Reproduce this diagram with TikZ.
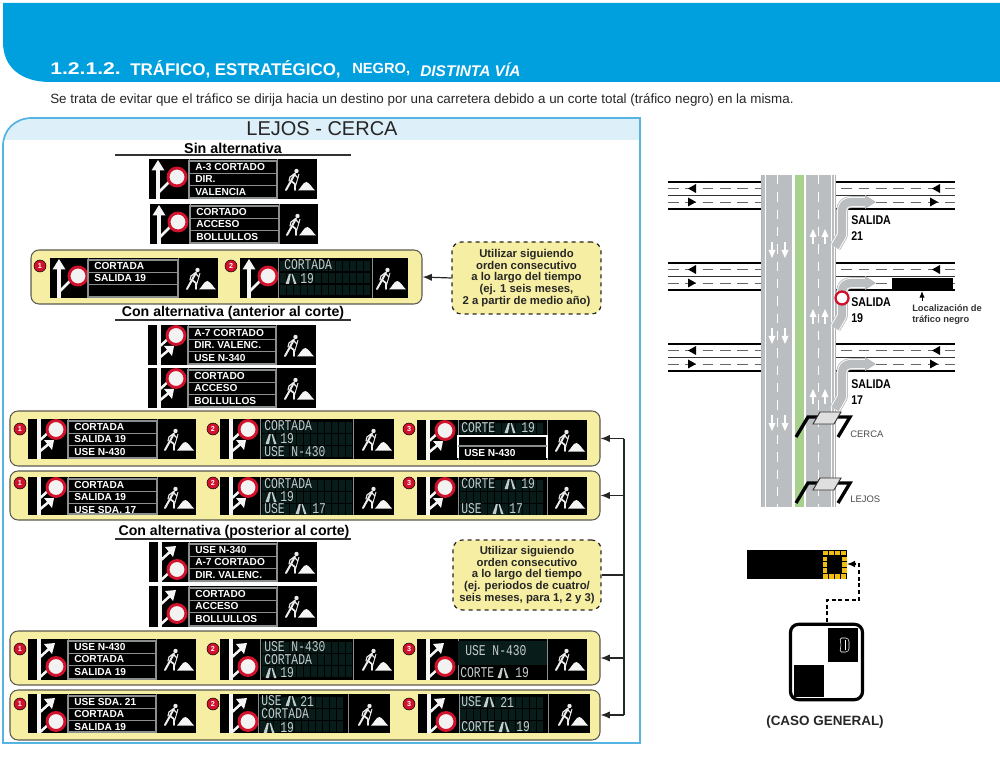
\documentclass[tikz,border=0pt]{standalone}
\usepackage{fontspec}
\setmainfont{Liberation Sans}
\newfontfamily\ledfont{Liberation Mono}
\usetikzlibrary{arrows.meta,calc}
\definecolor{hdrblue}{HTML}{009FDE}
\definecolor{panelblue}{HTML}{55B4E2}
\definecolor{bandblue}{HTML}{DDF0F9}
\definecolor{boxyellow}{HTML}{F6EEA2}
\definecolor{boxedge}{HTML}{5A5A50}
\definecolor{signred}{HTML}{D0122C}
\definecolor{ledcell}{HTML}{081C1A}
\definecolor{ledtext}{HTML}{C4CCCC}
\definecolor{rowgray}{HTML}{8A8E8E}
\definecolor{roadgray}{HTML}{BBBEC0}
\definecolor{median}{HTML}{A9D18E}
\definecolor{ledgold}{HTML}{F2BD12}
\newcount\tn
\newcommand\sz[1]{\fontsize{#1}{#1}\selectfont}
% generic text node, auto named
\newcommand\lbl[4][]{\global\advance\tn by 1 \node[txt,#1] (t\the\tn) at (#2,#3) {#4};}
\newcommand\rowtx[3]{\global\advance\tn by 1 \node[rowtext] (t\the\tn) at (#1,#2) {#3};}
\newcommand\ltx[3]{\global\advance\tn by 1 \node[ledtxt] (t\the\tn) at (#1,#2) {\scalebox{1}[1.32]{#3}};}
\newcommand\ric[2]{\begin{scope}[shift={(#1,#2)}]
  \fill[ledtext] (-0.5,5)--(3,-5)--(4.8,-5)--(3,5)--cycle;
  \fill[ledtext] (8,5)--(5.6,-5)--(6.8,-5)--(10.5,5)--cycle;
  \end{scope}}
\newcommand\numc[3]{\global\advance\tn by 1 \node[numdot] (t\the\tn) at (#1,#2) {#3};}
\newcommand\rsign[2]{\draw[signred,line width=2.2pt,fill=gray!10] (#1,#2) circle (9);}
\newcommand\picto[1]{%
  \ifx a#1%
    \draw[signwhite,line width=3.1pt] (9,40)--(9,9);
    \fill[signwhite] (2.5,11.5)--(9,1)--(15.5,11.5)--cycle;
    \draw[signwhite,line width=1.9pt] (9,34)--(21,22);
    \rsign{28}{18}%
  \fi
  \ifx b#1%
    \draw[signwhite,line width=3.2pt] (11,0)--(11,\sh);
    \draw[signwhite,line width=1.9pt] (11,22)--(21,13);
    \draw[signwhite,line width=1.9pt] (11,33)--(22,24);
    \fill[signwhite] (16,21)--(26,21)--(24,31)--cycle;
    \rsign{28}{10.5}%
  \fi
  \ifx c#1%
    \draw[signwhite,line width=3.2pt] (11,0)--(11,\sh);
    \draw[signwhite,line width=1.9pt] (11,19)--(22,9);
    \fill[signwhite] (16,5)--(27,4)--(24,15)--cycle;
    \draw[signwhite,line width=1.9pt] (11,39)--(21,30);
    \rsign{28}{27.5}%
  \fi}
\newcommand\worker{%
  \fill[workgray] (147.5,12) circle (2.2);
  \draw[workgray,line width=1.5pt,line cap=round,line join=round] (146,14.5)--(142,22)--(137,31);
  \draw[workgray,line width=1.3pt,line cap=round,line join=round] (142,22)--(146,25)--(146,31);
  \draw[workgray,line width=.9pt,line cap=round] (145,15)--(141,18)--(140,22);
  \draw[workgray,line width=.9pt,line cap=round] (145,15)--(149,19);
  \draw[workgray,line width=.7pt] (150,15)--(146,29);
  \fill[signwhite] (149,31.5) .. controls (152,29) and (154,23) .. (157.5,23) .. controls (161,24) and (163,29) .. (166,31.5) -- cycle;}
% x y w p1 p2 type body
\newcommand\sign[7]{\begin{scope}[shift={(#1,#2)}]
  \fill[black] (0,0) rectangle (#3,\sh);
  \draw[rowgray,line width=.5pt] (#4,0)--(#4,\sh) (#5,0)--(#5,\sh);
  \picto{#6}
  \begin{scope}[shift={(#3-168,0)}]\worker\end{scope}
  #7
  \end{scope}}
\newcommand\rows[5]{% p1 p2 t1 t2 t3
  \draw[rowgray,line width=.9pt] (#1,2) rectangle (#2,\sh-1);
  \draw[rowgray,line width=.7pt] (#1,14)--(#2,14) (#1,26)--(#2,26);
  \rowtx{#1+6}{8}{#3}\rowtx{#1+6}{20.5}{#4}\rowtx{#1+6}{33}{#5}}
\newcommand\grid[2]{\pgfmathtruncatemacro\gn{(#2-#1)/7}\foreach \gi in {0,...,\gn}{\foreach \gy in {3,15,27}{\fill[ledcell] (#1+\gi*7,\gy) rectangle ++(6,10.5);}}}
\newcommand\fixedsign[8]{\sign{#1}{#2}{#3}{#4}{#5}{#6}{\rows{#4}{#5}{#7}{#8}{\tthree}}}
\newcommand\sal[1]{\scalebox{.84}[1]{#1}}
\tikzset{
  x=.75pt,y=-.75pt,
  signwhite/.style={color=white!92!gray},
  workgray/.style={color=white!85!gray},
  txt/.style={inner sep=0pt,anchor=center,text=black},
  rowtext/.style={inner sep=0pt,anchor=west,text=white,font=\bfseries\sz{7.6}},
  ledtxt/.style={inner sep=0pt,anchor=west,text=ledtext,font=\ledfont\sz{8.5}},
  numdot/.style={circle,draw=black,line width=.4pt,fill=signred,text=white,inner sep=0pt,minimum size=9pt,font=\bfseries\sz{5.4}},
  ybox/.style={rectangle,rounded corners=6pt,draw=boxedge,line width=.8pt,fill=boxyellow,inner sep=0pt},
  notebox/.style={rectangle,rounded corners=7pt,draw=black!85,dashed,line width=.9pt,fill=boxyellow,inner sep=0pt,align=center,font=\bfseries\fontsize{8.5}{8.9}\selectfont,text=black!85},
  bus/.style={draw=black!85,line width=.9pt},
  busarrow/.style={draw=black!85,line width=.9pt,-{Latex[length=7pt,width=5.5pt]}},
  thickrd/.style={draw=black,line width=1.3pt},
  thinrd/.style={draw=black!80,line width=.7pt},
  dashrd/.style={draw=black!60,line width=.7pt,dash pattern=on 8pt off 5pt},
  whitedash/.style={draw=white,line width=.6pt,dash pattern=on 7pt off 6pt},
  gantry/.style={draw=black,line width=2.5pt,line join=miter},
  gsign/.style={draw=black!80,fill=gray!25,line width=.7pt},
}
\newcommand\rdarrow[3]{\fill[black] (#1,#2) -- ++(#3*8,-4.5) -- ++(0,9) -- cycle;}
\newcommand\uparr[2]{\draw[white,line width=1.2pt] (#1,#2+15)--(#1,#2+4); \fill[white] (#1-3.5,#2+8)--(#1,#2)--(#1+3.5,#2+8)--cycle;}
\newcommand\dnarr[2]{\draw[white,line width=1.2pt] (#1,#2)--(#1,#2+10); \fill[white] (#1-3.5,#2+8)--(#1,#2+16)--(#1+3.5,#2+8)--cycle;}
\newcommand\hroad[1]{% top y
  \draw[thickrd] (668,#1)--(955,#1);
  \draw[thinrd] (668,#1+13.5)--(955,#1+13.5);
  \draw[thickrd] (668,#1+27)--(955,#1+27);
  \draw[dashrd] (668,#1+6.5)--(955,#1+6.5);
  \draw[dashrd] (668,#1+20)--(955,#1+20);
  \rdarrow{688}{#1+6.5}{1}\rdarrow{932}{#1+6.5}{1}
  \rdarrow{696}{#1+20}{-1}\rdarrow{938}{#1+20}{-1}}
\newcommand\ramp[1]{% arrow y
  \foreach \c/\w in {gray!55/8.8,white/7.6,roadgray/6.2}{
   \draw[color=\c,line width=\w pt,line join=round] (835,#1+45)--(842,#1+33)--(842,#1+10) .. controls (842,#1+3) and (845,#1) .. (852,#1)--(866,#1);}
  \fill[roadgray] (865,#1-7)--(876,#1)--(865,#1+7)--cycle;}
\newcommand\gant[1]{\begin{scope}[shift={(0,#1)}]
  \draw[gantry] (796,437)--(808,417)--(820,417);
  \draw[gantry] (838,437)--(850,417)--(836,417);
  \draw[gsign] (820,412)--(841,412)--(834,424)--(813,424)--cycle;
  \end{scope}}
\begin{document}
\begin{tikzpicture}
\useasboundingbox (0,0) rectangle (1000,759);
\def\sh{40}
% header
\fill[hdrblue] (3,3) -- (1000,3) -- (1000,82) -- (50,82) .. controls (22,82) and (3,68) .. (3,42) -- cycle;
\lbl[anchor=west,text=white,font=\bfseries\sz{12.7}]{50}{69}{\scalebox{1.25}[1]{1.2.1.2.}}
\lbl[anchor=west,text=white,font=\bfseries\sz{12.7}]{130}{69}{TRÁFICO, ESTRATÉGICO,}
\lbl[anchor=west,text=white,font=\bfseries\sz{11}]{352}{70}{NEGRO,}
\lbl[anchor=west,text=white,font=\bfseries\itshape\sz{11.6}]{420}{70}{DISTINTA VÍA}
\lbl[anchor=west,text=black!85,font=\sz{10.05}]{50}{100}{Se trata de evitar que el tráfico se dirija hacia un destino por una carretera debido a un corte total (tráfico negro) en la misma.}
% main panel
\fill[bandblue] (3,140) -- (3,146) .. controls (3,130) and (15,118) .. (32,118) -- (640,118) -- (640,140) -- cycle;
\draw[panelblue,line width=1.3pt] (3,743) -- (3,146) .. controls (3,130) and (15,118) .. (32,118) -- (640,118) -- (640,743) -- cycle;
\lbl[font=\sz{15},text=black!85]{322}{129}{LEJOS - CERCA}
\lbl[font=\bfseries\sz{10.7}]{233}{148}{Sin alternativa}
\draw[black!80,line width=.8pt] (115,155)--(351,155);
\lbl[font=\bfseries\sz{10.6}]{233}{313}{Con alternativa (anterior al corte)}
\draw[black!80,line width=.8pt] (115,320)--(351,320);
\lbl[font=\bfseries\sz{10.6}]{234}{532}{Con alternativa (posterior al corte)}
\draw[black!80,line width=.8pt] (115,539)--(351,539);
% yellow rows
\node[ybox,minimum width=293.25pt,minimum height=40.5pt] (b1) at (226.5,277) {};
\node[ybox,minimum width=442.5pt,minimum height=41.25pt] (b2) at (305,438.5) {};
\node[ybox,minimum width=442.5pt,minimum height=36.75pt] (b3) at (305,495.5) {};
\node[ybox,minimum width=442.5pt,minimum height=40.5pt] (b4) at (305,658) {};
\node[ybox,minimum width=442.5pt,minimum height=37.5pt] (b5) at (305,715) {};
% notes
\node[notebox,minimum width=111.75pt,minimum height=54pt] (n1) at (526.5,278) {Utilizar siguiendo\\orden consecutivo\\a lo largo del tiempo\\(ej. 1 seis meses,\\2 a partir de medio año)};
\node[notebox,minimum width=111pt,minimum height=52.5pt] (n2) at (527,575) {Utilizar siguiendo\\orden consecutivo\\a lo largo del tiempo\\(ej. periodos de cuatro/\\seis meses, para 1, 2 y 3)};
% connectors
\coordinate (busline) at (624,575);
\draw[busarrow] (n1.west) -- (b1.east);
\draw[bus] (n2.east) -- (busline);
\draw[bus] (busline |- b2.east) -- (busline |- b5.east);
\draw[busarrow] (busline |- b2.east) -- (b2.east);
\draw[busarrow] (busline |- b3.east) -- (b3.east);
\draw[busarrow] (busline |- b4.east) -- (b4.east);
\draw[busarrow] (busline |- b5.east) -- (b5.east);
% sin alternativa
\def\tthree{VALENCIA}\fixedsign{149}{159}{168}{40}{128}{a}{A-3 CORTADO}{DIR.}
\def\tthree{BOLLULLOS}\fixedsign{150}{204}{168}{40}{129}{a}{CORTADO}{ACCESO}
\numc{40}{266}{1}\def\tthree{}\fixedsign{50}{258}{168}{38}{128}{a}{CORTADA}{SALIDA 19}
\numc{231}{266}{2}\sign{240}{258}{168}{38}{132}{a}{\grid{40}{124}\ltx{44}{7}{CORTADA}\ric{46}{21}\ltx{60}{21}{19}}
% anterior
\def\tthree{USE N-340}\fixedsign{148}{325}{168}{40}{128}{b}{A-7 CORTADO}{DIR. VALENC.}
\def\tthree{BOLLULLOS}\fixedsign{148}{368}{168}{40}{128}{b}{CORTADO}{ACCESO}
\numc{20}{429}{1}\def\tthree{USE N-430}\fixedsign{28}{419}{168}{40}{129}{b}{CORTADA}{SALIDA 19}
\numc{213}{429}{2}\sign{220}{419}{174}{40}{133}{b}{\grid{42}{126}\ltx{44}{7}{CORTADA}\ric{46}{20}\ltx{60}{20}{19}\ltx{44}{33}{USE N-430}}
\numc{409}{429}{3}\sign{417}{420}{170}{41}{130}{b}{\grid{43}{123}\ltx{44}{8}{CORTE}\ric{88}{8}\ltx{104}{8}{19}
  \draw[white,line width=.8pt] (41,38)--(41,16)--(130,16)--(130,38);\draw[rowgray,line width=.8pt] (41,26)--(130,26);
  \fill[black] (42,17) rectangle (129,25);\fill[black] (42,27) rectangle (129,39);
  \rowtx{47}{33}{USE N-430}}
\def\sh{38}
\numc{20}{483}{1}\def\tthree{USE SDA. 17}\fixedsign{28}{477}{168}{40}{129}{b}{CORTADA}{SALIDA 19}
\numc{213}{483}{2}\sign{220}{477}{174}{40}{133}{b}{\grid{42}{126}\ltx{44}{7}{CORTADA}\ric{46}{20}\ltx{60}{20}{19}\ltx{44}{32}{USE}\ric{76}{32}\ltx{92}{32}{17}}
\numc{409}{483}{3}\sign{417}{477}{170}{41}{130}{b}{\grid{43}{123}\ltx{44}{7}{CORTE}\ric{88}{7}\ltx{104}{7}{19}\ltx{44}{32}{USE}\ric{76}{32}\ltx{92}{32}{17}}
\def\sh{40}
% posterior
\def\tthree{DIR. VALENC.}\fixedsign{149}{542}{168}{40}{128}{c}{USE N-340}{A-7 CORTADO}
\def\sh{41}
\def\tthree{BOLLULLOS}\fixedsign{149}{586}{168}{40}{128}{c}{CORTADO}{ACCESO}
\def\sh{41}
\numc{20}{649}{1}\def\tthree{SALIDA 19}\fixedsign{28}{639}{168}{40}{128}{c}{USE N-430}{CORTADA}
\numc{213}{649}{2}\sign{220}{639}{174}{40}{133}{c}{\grid{42}{126}\ltx{44}{8}{USE N-430}\ltx{44}{21}{CORTADA}\ric{46}{34}\ltx{60}{34}{19}}
\numc{409}{649}{3}\sign{417}{639}{170}{41}{130}{c}{\fill[ledcell] (41,2) rectangle (130,26);\ltx{48}{12}{USE N-430}\ltx{43}{34}{CORTE}\ric{81}{34}\ltx{98}{34}{19}}
\def\sh{39}
\numc{20}{704}{1}\def\tthree{SALIDA 19}\fixedsign{28}{694}{168}{40}{128}{c}{USE SDA. 21}{CORTADA}
\numc{213}{704}{2}\sign{220}{694}{170}{38}{128}{c}{\grid{40}{118}\ltx{41}{7}{USE}\ric{66}{7}\ltx{80}{7}{21}\ltx{41}{20}{CORTADA}\ric{44}{34}\ltx{60}{34}{19}}
\numc{409}{704}{3}\sign{418}{694}{172}{41}{130}{c}{\grid{42}{122}\ltx{43}{8}{USE}\ric{66}{8}\ltx{82}{8}{21}\ltx{43}{33}{CORTE}\ric{81}{33}\ltx{98}{33}{19}}
\def\sh{40}
% roads
\hroad{182}\hroad{263}\hroad{344}
\fill[black] (892,278) rectangle (953,290);
\fill[white] (761,175) rectangle (836,507);
\fill[roadgray] (762,175) rectangle (792,507);
\fill[median] (794.5,175) rectangle (804,507);
\fill[roadgray] (806,175) rectangle (834,507);
\draw[white,line width=.5pt] (765,175)--(765,507) (831,175)--(831,507);
\draw[gray!60,line width=.3pt] (761.5,175)--(761.5,507) (835.5,175)--(835.5,507);
\draw[whitedash] (777.5,175)--(777.5,507);
\draw[whitedash] (818.5,175)--(818.5,507);
\dnarr{772}{242}\dnarr{785}{242}\dnarr{772}{328}\dnarr{785}{328}\dnarr{772}{415}\dnarr{785}{415}
\uparr{813}{229}\uparr{825}{229}\uparr{813}{309}\uparr{825}{309}\uparr{813}{389}\uparr{825}{389}
\ramp{202}\ramp{283}\ramp{364}
\draw[signred,line width=1.7pt,fill=white] (842,298) circle (6.5);
\lbl[anchor=west,font=\bfseries\sz{9.5}]{851}{220}{\sal{SALIDA}}
\lbl[anchor=west,font=\bfseries\sz{9.5}]{851}{236}{\sal{21}}
\lbl[anchor=west,font=\bfseries\sz{9.5}]{851}{302}{\sal{SALIDA}}
\lbl[anchor=west,font=\bfseries\sz{9.5}]{851}{318}{\sal{19}}
\lbl[anchor=west,font=\bfseries\sz{9.5}]{851}{384}{\sal{SALIDA}}
\lbl[anchor=west,font=\bfseries\sz{9.5}]{851}{400}{\sal{17}}
\lbl[anchor=west,font=\bfseries\sz{7},text=black!80]{912}{308}{Localización de}
\lbl[anchor=west,font=\bfseries\sz{7},text=black!80]{912}{320}{tráfico negro}
\coordinate (locfrom) at (922,301);\coordinate (locto) at (922,291);
\draw[black,line width=.7pt,-{Latex[length=5pt,width=4pt]}] (locfrom)--(locto);
\gant{0}\gant{66}
\lbl[anchor=west,font=\sz{7.1},text=black!70]{850}{434}{CERCA}
\lbl[anchor=west,font=\sz{7.1},text=black!70]{850}{499}{LEJOS}
% bottom right
\fill[black] (747,550) rectangle (847,579);
\foreach \i in {0,1,2,3}{\fill[ledgold] (823+\i*6,550.5) rectangle ++(4.6,4.6);\fill[ledgold] (823+\i*6,574) rectangle ++(4.6,4.6);}
\foreach \i in {0,1,2}{\fill[ledgold] (822.5,556.5+\i*5.8) rectangle ++(4.2,4.6);\fill[ledgold] (842,556.5+\i*5.8) rectangle ++(4.6,4.6);}
\node[draw=black,line width=2.4pt,rounded corners=6pt,minimum width=54pt,minimum height=56.5pt,inner sep=0pt] (sq) at (826.5,662) {};
\coordinate (barend) at (847,564);
\coordinate (elbow) at (859,600);
\draw[black,line width=.9pt,densely dashed,-{Latex[length=6pt,width=5pt]}] (827,622) -- (827,600) -- (elbow) -- (elbow |- barend) -- (barend);
\fill[black] (828,628) rectangle (858,662);
\fill[black] (794,665) rectangle (824,697);
\draw[white,line width=.4pt,rounded corners=1pt] (840,638)--(847,638)--(849,640)--(849,650)--(847,652)--(840,652)--(841,645)--cycle;
\draw[white,line width=.4pt] (845,640)--(845,650);
\lbl[font=\bfseries\sz{10.1},text=black!85]{825}{722}{(CASO GENERAL)}
\end{tikzpicture}
\end{document}
